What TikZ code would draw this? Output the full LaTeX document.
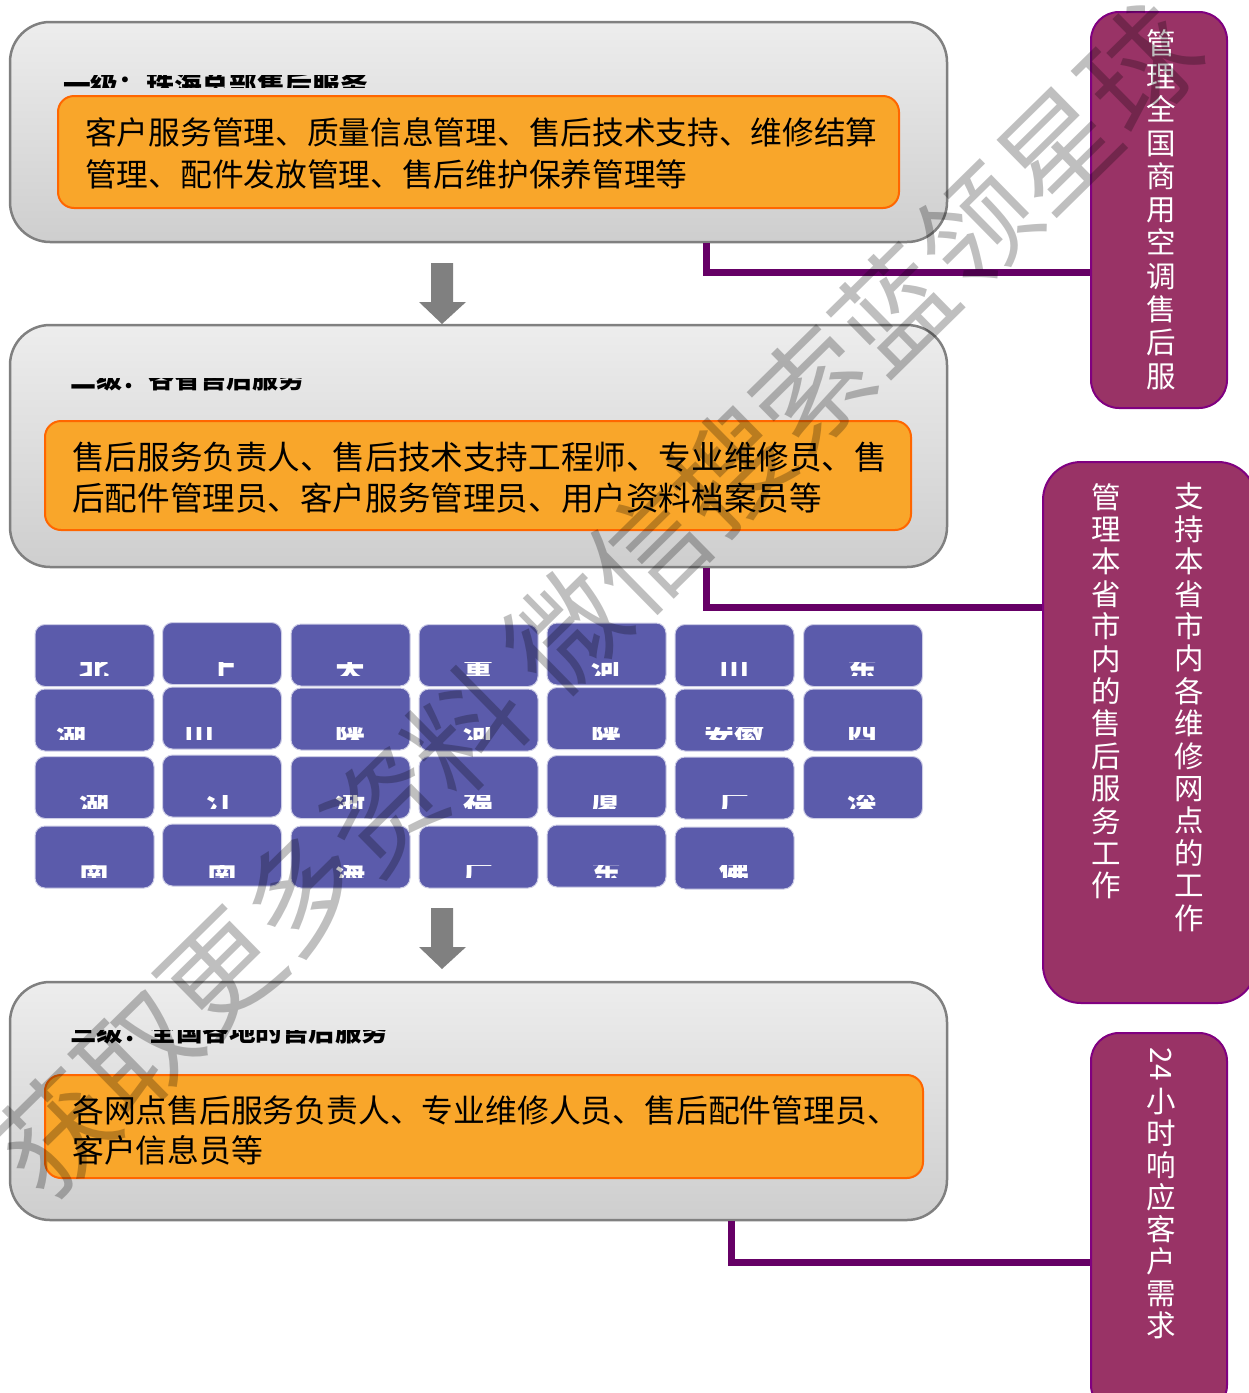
\documentclass[tikz,border=0pt]{standalone}
\usepackage{fontspec}
\setmainfont{Noto Sans CJK SC}
\definecolor{boxtop}{RGB}{237,237,237}
\definecolor{boxbot}{RGB}{206,206,206}
\definecolor{boxline}{RGB}{128,128,128}
\definecolor{orfill}{RGB}{249,166,42}
\definecolor{orline}{RGB}{255,102,0}
\definecolor{cellfill}{RGB}{91,91,171}
\definecolor{cellline}{RGB}{205,205,230}
\definecolor{sidefill}{RGB}{153,51,102}
\definecolor{sideline}{RGB}{128,0,128}
\definecolor{connc}{RGB}{102,0,102}
\definecolor{arrowc}{RGB}{128,128,128}
\begin{document}
\begin{tikzpicture}[x=1pt,y=-1pt,
  bigbox/.style={draw=boxline, line width=2.5pt, rounded corners=40pt, top color=boxtop, middle color=boxtop!80!boxbot, bottom color=boxbot, inner sep=0pt, minimum width=937pt},
  orbox/.style={draw=orline, line width=2pt, fill=orfill, rounded corners=16pt, inner sep=0pt},
  otext/.style={anchor=west, inner sep=0pt, text=black},
  head/.style={anchor=west, inner sep=0pt, text=black},
  cellbox/.style={draw=cellline, line width=1pt, fill=cellfill, rounded corners=10pt, minimum width=119pt, minimum height=62pt, inner sep=0pt},
  ctext/.style={font=\bfseries\fontsize{30}{30}\selectfont, text=white, inner sep=0pt},
  side/.style={draw=sideline, line width=2pt, fill=sidefill, inner sep=0pt},
  vtext/.style={text=white, font=\fontsize{29.5}{33.3}\selectfont, align=center, inner sep=0pt, anchor=north},
  conn/.style={draw=connc, line width=7pt},
  blockarrow/.style={fill=arrowc}
]
\useasboundingbox (0,0) rectangle (1249,1393);

% ---------- big boxes ----------
\node[bigbox, minimum height=220pt] (big1) at (478.5,132) {};
\node[bigbox, minimum height=242pt] (big2) at (478.5,446) {};
\node[bigbox, minimum height=238pt] (big3) at (478.5,1101) {};

% ---------- orange boxes ----------
\node[orbox, minimum width=841pt, minimum height=112pt] (or1) at (478.5,152) {};
\node[orbox, minimum width=866pt, minimum height=109pt] (or2) at (478,475.5) {};
\node[orbox, minimum width=878pt, minimum height=103pt] (or3) at (484,1126.5) {};

\node[otext, font=\fontsize{31.7}{36}\selectfont] (o1a) at (85,132) {客户服务管理、质量信息管理、售后技术支持、维修结算};
\node[otext, font=\fontsize{31.7}{36}\selectfont] (o1b) at (85,174) {管理、配件发放管理、售后维护保养管理等};
\node[otext, font=\fontsize{32.6}{36}\selectfont] (o2a) at (72,457) {售后服务负责人、售后技术支持工程师、专业维修员、售};
\node[otext, font=\fontsize{32.6}{36}\selectfont] (o2b) at (72,498) {后配件管理员、客户服务管理员、用户资料档案员等};
\node[otext, font=\fontsize{31.8}{36}\selectfont] (o3a) at (72,1110) {各网点售后服务负责人、专业维修人员、售后配件管理员、};
\node[otext, font=\fontsize{31.8}{36}\selectfont] (o3b) at (72,1150) {客户信息员等};

% ---------- clipped headings ----------
\begin{scope}
  \clip (55,75) rectangle (600,87);
  \node[head, font=\bfseries\fontsize{27.7}{30}\selectfont] (h1) at (63,85) {一级：珠海总部售后服务};
\end{scope}
\begin{scope}
  \clip (55,378) rectangle (600,392);
  \node[head, font=\bfseries\fontsize{26}{30}\selectfont] (h2) at (70,379) {二级：各省售后服务};
\end{scope}
\begin{scope}
  \clip (55,1030) rectangle (600,1045);
  \node[head, font=\bfseries\fontsize{26.5}{30}\selectfont] (h3) at (70,1031) {三级：全国各地的售后服务};
\end{scope}

% ---------- grid of cells ----------
\node[cellbox] (c11) at (94.5,655.5) {};
\node[cellbox] (c12) at (222,653.5) {};
\node[cellbox] (c13) at (350.5,655) {};
\node[cellbox] (c14) at (478.5,655.5) {};
\node[cellbox] (c15) at (606.5,654) {};
\node[cellbox] (c16) at (734.5,655.5) {};
\node[cellbox] (c17) at (863,655.5) {};
\node[cellbox] (c21) at (94.5,720) {};
\node[cellbox] (c22) at (222,718) {};
\node[cellbox] (c23) at (350.5,719) {};
\node[cellbox] (c24) at (478.5,720) {};
\node[cellbox] (c25) at (606.5,718.5) {};
\node[cellbox] (c26) at (734.5,720) {};
\node[cellbox] (c27) at (863,720) {};
\node[cellbox] (c31) at (94.5,787.5) {};
\node[cellbox] (c32) at (222,786) {};
\node[cellbox] (c33) at (350.5,787.5) {};
\node[cellbox] (c34) at (478.5,787.5) {};
\node[cellbox] (c35) at (606.5,786.5) {};
\node[cellbox] (c36) at (734.5,788) {};
\node[cellbox] (c37) at (863,787.5) {};
\node[cellbox] (c41) at (94.5,857) {};
\node[cellbox] (c42) at (222,855) {};
\node[cellbox] (c43) at (350.5,857) {};
\node[cellbox] (c44) at (478.5,857) {};
\node[cellbox] (c45) at (606.5,856) {};
\node[cellbox] (c46) at (734.5,858) {};

\begin{scope}
  \clip (30,662) rectangle (930,675);
  \node[ctext] (t11) at (94.5,669) {北};
  \node[ctext] (t12) at (222,669) {上};
  \node[ctext] (t13) at (350.5,669) {天};
  \node[ctext] (t14) at (478.5,669) {重};
  \node[ctext] (t15) at (606.5,669) {河};
  \node[ctext] (t16) at (734.5,669) {山};
  \node[ctext] (t17) at (862.5,669) {东};
\end{scope}
\begin{scope}
  \clip (30,727) rectangle (930,739);
  \node[ctext] (t21) at (71.5,734) {湖};
  \node[ctext] (t22) at (199,734) {山};
  \node[ctext] (t23) at (350.5,734) {陕};
  \node[ctext] (t24) at (478.5,734) {河};
  \node[ctext] (t25) at (606.5,734) {陕};
  \node[ctext] (t26) at (734.5,734) {安徽};
  \node[ctext] (t27) at (862.5,734) {四};
\end{scope}
\begin{scope}
  \clip (30,795) rectangle (930,808);
  \node[ctext] (t31) at (94,802) {湖};
  \node[ctext] (t32) at (221.5,802) {江};
  \node[ctext] (t33) at (350.5,802) {浙};
  \node[ctext] (t34) at (478.5,802) {福};
  \node[ctext] (t35) at (606.5,802) {厦};
  \node[ctext] (t36) at (734.5,802) {广};
  \node[ctext] (t37) at (862.5,802) {深};
\end{scope}
\begin{scope}
  \clip (30,865) rectangle (930,877);
  \node[ctext] (t41) at (94,872) {南};
  \node[ctext] (t42) at (222,872) {南};
  \node[ctext] (t43) at (350.5,872) {海};
  \node[ctext] (t44) at (478.5,872) {广};
  \node[ctext] (t45) at (606.5,872) {东};
  \node[ctext] (t46) at (734.5,872) {佛};
\end{scope}

% ---------- block arrows ----------
\foreach \yy in {263,908}{
  \fill[blockarrow] (431,\yy) -- ++(22,0) -- ++(0,39) -- ++(13,0) -- ++(-24,22) -- ++(-23,-22) -- ++(12,0) -- cycle;
}

% ---------- side boxes ----------
\node[side, rounded corners=28pt, minimum width=136pt, minimum height=396pt] (side1) at (1159,210) {};
\node[side, rounded corners=38pt, minimum width=213pt, minimum height=541pt] (side2) at (1149.5,732.5) {};
\node[side, rounded corners=28pt, minimum width=136pt, minimum height=380pt] (side3) at (1159,1223) {};

% ---------- connectors ----------
\coordinate (j1) at (706,272);
\coordinate (j2) at (706,607);
\coordinate (j3) at (731,1262);
\draw[conn] (big1.south -| j1) |- (side1.west |- j1);
\draw[conn] (big2.south -| j2) |- (side2.west |- j2);
\draw[conn] (big3.south -| j3) |- (side3.west |- j3);

% ---------- vertical texts ----------
\node[vtext] (s1) at (1161,29) {管\\理\\全\\国\\商\\用\\空\\调\\售\\后\\服};
\node[vtext, font=\fontsize{29.5}{32.4}\selectfont] (s2a) at (1106,483) {管\\理\\本\\省\\市\\内\\的\\售\\后\\服\\务\\工\\作};
\node[vtext, font=\fontsize{29.5}{32.4}\selectfont] (s2b) at (1189,483) {支\\持\\本\\省\\市\\内\\各\\维\\修\\网\\点\\的\\工\\作};
\node[text=white, font=\fontsize{29.5}{32}\selectfont, inner sep=0pt, rotate=-90] (s3n) at (1161,1064) {24};
\node[vtext, font=\fontsize{29.5}{32}\selectfont] (s3) at (1161,1088) {小\\时\\响\\应\\客\\户\\需\\求};

% ---------- watermark ----------
\node[rotate=44.5, text=black, text opacity=0.25, font=\fontsize{115}{115}\selectfont, inner sep=0pt] (wm) at (598,600) {获取更多资料 微信搜索蓝领星球};
\end{tikzpicture}
\end{document}
